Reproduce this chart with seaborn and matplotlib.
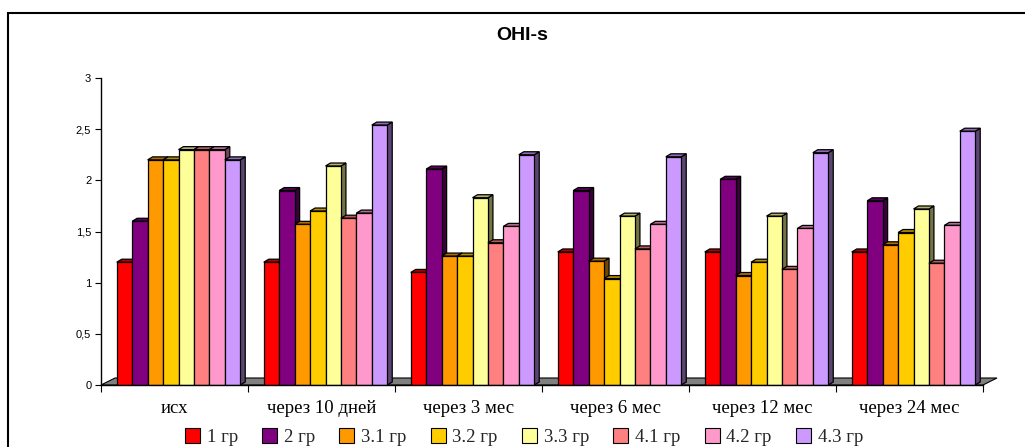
import numpy as np
import pandas as pd
import matplotlib
matplotlib.use("Agg")
import matplotlib.pyplot as plt
import seaborn as sns
from matplotlib.patches import Polygon, Rectangle, Patch
from matplotlib.colors import to_rgb

# --- data -------------------------------------------------------------
periods = ["исх", "через 10 дней", "через 3 мес", "через 6 мес",
           "через 12 мес", "через 24 мес"]
groups = ["1 гр", "2 гр", "3.1 гр", "3.2 гр", "3.3 гр", "4.1 гр", "4.2 гр", "4.3 гр"]

g1 = [1.20, 1.20, 1.10, 1.30, 1.30, 1.30]
g2 = [1.60, 1.90, 2.11, 1.90, 2.01, 1.80]
g31 = [2.20, 1.57, 1.26, 1.21, 1.07, 1.37]
g32 = [2.20, 1.70, 1.26, 1.04, 1.20, 1.49]
g33 = [2.30, 2.14, 1.83, 1.65, 1.65, 1.72]
g41 = [2.30, 1.63, 1.39, 1.33, 1.13, 1.19]
g42 = [2.30, 1.68, 1.55, 1.57, 1.53, 1.56]
g43 = [2.20, 2.54, 2.25, 2.23, 2.27, 2.48]

colors = ["#FF0000", "#800080", "#FF9900", "#FFCC00",
          "#FFFF99", "#FF8080", "#FF99CC", "#CC99FF"]

ytick_vals = [0, 0.5, 1, 1.5, 2, 2.5, 3]
ytick_text = ["0", "0,5", "1", "1,5", "2", "2,5", "3"]

series = [g1, g2, g31, g32, g33, g41, g42, g43]
df = pd.DataFrame(
    [(p, g, v) for g, vals in zip(groups, series) for p, v in zip(periods, vals)],
    columns=["period", "group", "value"],
)

# --- figure -----------------------------------------------------------
sns.set_theme(style="white")
plt.rcParams["font.family"] = ["Liberation Sans", "DejaVu Sans"]

W, H = 1025, 447
fig = plt.figure(figsize=(W / 100, H / 100), dpi=100)
ax = fig.add_axes([101 / W, 1 - 385 / H, (983 - 101) / W, (385 - 78) / H])

sns.barplot(data=df, x="period", y="value", hue="group", order=periods,
            hue_order=groups, palette=colors, width=0.84, saturation=1,
            edgecolor="black", linewidth=0.9, legend=False, ax=ax)

ax.set_xlim(-0.5, len(periods) - 0.5)
ax.set_ylim(0, 3)

# pixel -> data conversion for the depth effect
inv = ax.transData.inverted()
def px_to_data(dx, dy):
    x0, y0 = ax.transData.transform((0, 0))
    a = inv.transform((x0 + dx, y0 + dy))
    return a[0], a[1]

bars = sorted(list(ax.patches), key=lambda p: p.get_x())

# floor slab under the bars
fdx, fdy = px_to_data(14, 7)
floor = Polygon([(-0.5, 0), (len(periods) - 0.5, 0),
                 (len(periods) - 0.5 + fdx, fdy), (-0.5 + fdx, fdy)],
                closed=True, facecolor="#808080", edgecolor="black",
                linewidth=0.8, zorder=1, clip_on=False)
ax.add_patch(floor)

# side and top faces give the bars depth; clusters sit slightly back-right
shift, _ = px_to_data(4, 0)
bdx, bdy = px_to_data(5, 3)
for i, b in enumerate(bars):
    z = 3 + i * 0.01
    b.set_x(b.get_x() + shift)
    x0, w, h = b.get_x(), b.get_width(), b.get_height()
    x1 = x0 + w
    base = np.array(to_rgb(b.get_facecolor()))
    side = Polygon([(x1, 0), (x1 + bdx, bdy), (x1 + bdx, h + bdy), (x1, h)],
                   closed=True, facecolor=base * 0.45, edgecolor="black",
                   linewidth=0.9, zorder=z, clip_on=False)
    top = Polygon([(x0, h), (x1, h), (x1 + bdx, h + bdy), (x0 + bdx, h + bdy)],
                  closed=True, facecolor=base * 0.7, edgecolor="black",
                  linewidth=0.9, zorder=z, clip_on=False)
    ax.add_patch(side)
    ax.add_patch(top)
    b.set_zorder(z + 0.005)

# axes styling
for s in ("top", "right"):
    ax.spines[s].set_visible(False)
for s in ("left", "bottom"):
    ax.spines[s].set_color("black")
    ax.spines[s].set_linewidth(1.0)
    ax.spines[s].set_zorder(10)

ax.set_yticks(ytick_vals)
ax.set_yticklabels(ytick_text)
ax.tick_params(axis="y", which="major", left=True, length=4, width=0.8,
               color="black", labelsize=8, pad=3, labelcolor="black")

ax.set_xticks(range(len(periods)))
ax.set_xticklabels(periods, fontfamily="Liberation Serif", fontsize=13.5)
ax.set_xticks(np.arange(-0.5, len(periods), 1.0), minor=True)
ax.tick_params(axis="x", which="major", bottom=True, length=0, pad=11,
               labelcolor="black")
ax.tick_params(axis="x", which="minor", bottom=True, length=5, width=0.8,
               color="black")
ax.set_xlabel("")
ax.set_ylabel("")

# title
fig.text(522 / W, 1 - 35 / H, "OHI-s", ha="center", va="center",
         fontsize=14, fontweight="bold", fontfamily="Liberation Sans",
         color="black")

# legend along the bottom edge
handles = [Patch(facecolor=c, edgecolor="black", linewidth=0.8) for c in colors]
fig.legend(handles, groups, loc="center", bbox_to_anchor=(524 / W, 1 - 437 / H),
           ncol=len(groups), frameon=False,
           prop={"family": "Liberation Serif", "size": 13.5},
           handlelength=0.8, handleheight=0.8, handletextpad=0.35,
           columnspacing=1.3, borderaxespad=0)

# chart frame
fig.patches.append(Rectangle((8 / W, -0.1), 1.2, 1 - 13 / H + 0.1,
                             transform=fig.transFigure, fill=False,
                             edgecolor="black", linewidth=1.5))

fig.savefig("out.png", dpi=100)
